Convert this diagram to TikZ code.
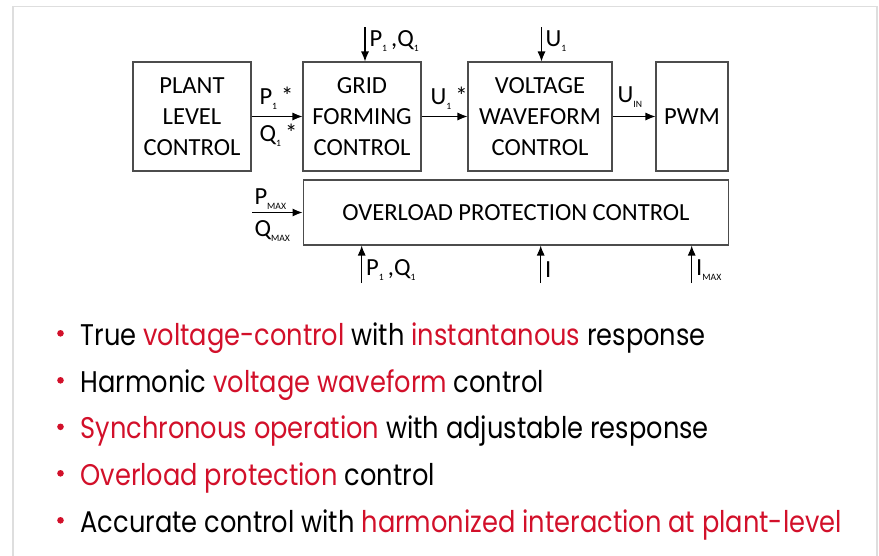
\documentclass[tikz,border=0pt]{standalone}
\usepackage{fontspec}
\usetikzlibrary{arrows.meta}
\newfontfamily\diagfont{Carlito}
\newfontfamily\bulletfont[FakeStretch=0.86]{Poppins}
\definecolor{hlred}{RGB}{210,16,42}
\definecolor{framegray}{RGB}{222,222,222}
\newcommand\hl[1]{\textcolor{hlred}{#1}}
\newcommand\lowidx[1]{\raisebox{-0.45ex}{\fontsize{5.5}{5.5}\selectfont #1}}

\begin{document}
\begin{tikzpicture}[x=0.02cm,y=-0.02cm,>={Latex[length=2mm,width=1.6mm]},line width=0.6pt]
  \tikzstyle{block}=[draw=black!70,minimum height=2.18cm,align=center,inner sep=0pt,font=\diagfont\fontsize{14}{17.6}\selectfont]
  \tikzstyle{sig}=[inner sep=0pt,anchor=west,font=\diagfont\fontsize{14}{14}\selectfont]
  \tikzstyle{bullet}=[inner sep=0pt,anchor=base west,font=\bulletfont\fontsize{17}{17}\selectfont]

  \useasboundingbox (0,0) rectangle (879,555);
  \draw[framegray,line width=0.9pt] (13,560) -- (13,6.5) -- (877,6.5) -- (877,560);

  % blocks
  \foreach \name/\x/\w/\txt in {plant/192/2.36/{PLANT\\LEVEL\\CONTROL}, grid/362/2.36/{GRID\\FORMING\\CONTROL},
                               volt/540/2.88/{VOLTAGE\\WAVEFORM\\CONTROL}, pwm/692/1.44/{PWM}}
    \node[block,minimum width=\w cm] (\name) at (\x,116.5) {\txt};
  \node[block,minimum width=8.52cm,minimum height=1.3cm] (over) at (516,212.5) {OVERLOAD PROTECTION CONTROL};

  \foreach \from/\to in {plant/grid,grid/volt,volt/pwm}
    { \draw[->] (\from) -- (\to); }

  % inputs from above
  \coordinate (pq-top) at (365,27);
  \coordinate (u-top) at (541.5,27);
  \draw[->] (pq-top) -- (pq-top |- grid.north);
  \draw[->] (u-top) -- (u-top |- volt.north);
  \node[sig] (pq-top-lbl) at (369,41) {P\lowidx{1}\,,Q\lowidx{1}};
  \node[sig] (u-top-lbl) at (545,41) {U\lowidx{1}};

  % signal names on the forward path
  \node[sig] (pref-lbl) at (259,98) {P\lowidx{1}\,*};
  \node[sig] (qref-lbl) at (259,135) {Q\lowidx{1}\,*};
  \node[sig] (uref-lbl) at (430,98) {U\lowidx{1}\,*};
  \node[sig] (uin-lbl) at (617,97) {U\lowidx{IN}};

  % overload protection inputs
  \coordinate (lim-in) at (252,212.5);
  \draw[->] (lim-in) -- (over);
  \node[sig] (pmax-lbl) at (254,199) {P\lowidx{MAX}};
  \node[sig] (qmax-lbl) at (254,231) {Q\lowidx{MAX}};

  \foreach \name/\x/\txt in {pq-bot/361.7/{P\lowidx{1}\,,Q\lowidx{1}}, i-bot/540.7/{I}, imax-bot/691.7/{I\lowidx{MAX}}}
  {
    \coordinate (\name) at (\x,283);
    \draw[->] (\name) -- (\name |- over.south);
    \node[sig] (\name-lbl) at (\x+4,270) {\txt};
  }

  % bullet list
  \foreach \name/\y/\txt in {b1/345/{True \hl{voltage-control} with \hl{instantanous} response},
                             b2/392/{Harmonic \hl{voltage waveform} control},
                             b3/438.5/{\hl{Synchronous operation} with adjustable response},
                             b4/485/{\hl{Overload protection} control},
                             b5/532/{Accurate control with \hl{harmonized interaction at plant-level}}}
  {
    \fill[hlred] (60.5,\y-11.7) circle (3.3);
    \node[bullet] (\name) at (80,\y) {\txt};
  }
\end{tikzpicture}
\end{document}
